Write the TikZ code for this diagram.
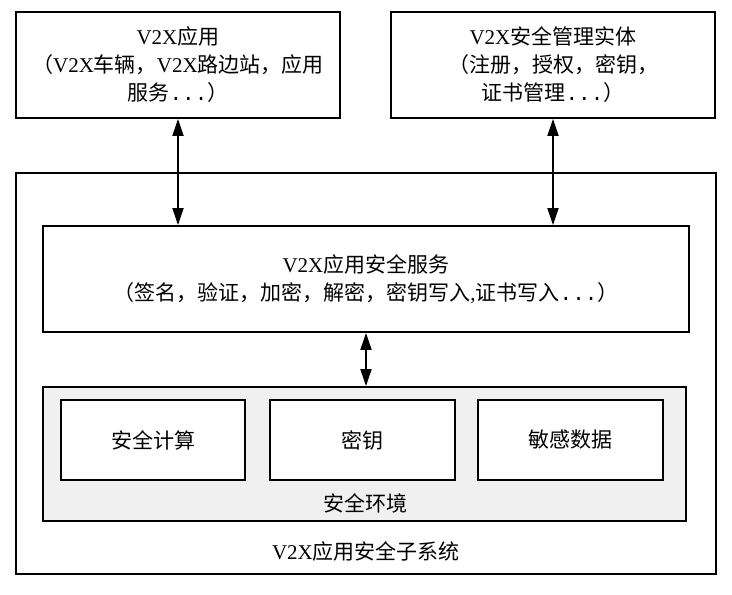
\documentclass[tikz,border=0pt]{standalone}
\usepackage{fontspec}
\newfontfamily\cjk{Noto Sans CJK SC}
\newfontfamily\lat{Liberation Serif}
\newfontfamily\latm{Liberation Mono}
\usetikzlibrary{arrows.meta}
\newcommand\vtx{{\lat V2X}}
\newcommand\ddd{{\latm ...}}
\begin{document}
\begin{tikzpicture}[x=1pt,y=-1pt,
  box/.style={draw, line width=1.8pt, inner sep=0pt},
  txt/.style={font=\cjk\fontsize{21}{28}\selectfont, align=center},
  arr/.style={{Triangle[length=17pt,width=11pt]}-{Triangle[length=17pt,width=11pt]}, line width=1.8pt}]
\useasboundingbox (0,0) rectangle (732,595);
% outer subsystem
\node[box, minimum width=700pt, minimum height=401pt] (outer) at (366,373.5) {};
\node[txt] (outerlbl) at (366,551) {\vtx 应用安全子系统};
% top boxes
\node[box, minimum width=324pt, minimum height=106pt] (app) at (178,65) {};
\node[txt] (apptxt) at (app.center) {\vtx 应用\\（\vtx 车辆，\vtx 路边站，应用\\服务\ddd）};
\node[box, minimum width=324pt, minimum height=106pt] (mgmt) at (553,65) {};
\node[txt] (mgmttxt) at (mgmt.center) {\vtx 安全管理实体\\（注册，授权，密钥，\\证书管理\ddd）};
% service box
\node[box, minimum width=646pt, minimum height=106pt] (svc) at (366,279) {};
\node[txt] (svctxt) at (svc.center) {\vtx 应用安全服务\\（签名，验证，加密，解密，密钥写入{\lat ,}证书写入\ddd）};
% secure environment
\node[box, fill=black!6, minimum width=643pt, minimum height=134pt] (env) at (364.5,454) {};
\node[txt] (envlbl) at (365,503) {安全环境};
\node[box, fill=white, minimum width=184pt, minimum height=80pt] (calc) at (153,440) {};
\node[txt] at (calc.center) {安全计算};
\node[box, fill=white, minimum width=185pt, minimum height=80pt] (key) at (362.5,440) {};
\node[txt] at (key.center) {密钥};
\node[box, fill=white, minimum width=185pt, minimum height=80pt] (data) at (570.5,440) {};
\node[txt] at (data.center) {敏感数据};
% arrows
\draw[arr] (app.south) -- (app.south |- svc.north);
\draw[arr] (mgmt.south) -- (mgmt.south |- svc.north);
\draw[arr] (svc.south) -- (svc.south |- env.north);
\end{tikzpicture}
\end{document}
